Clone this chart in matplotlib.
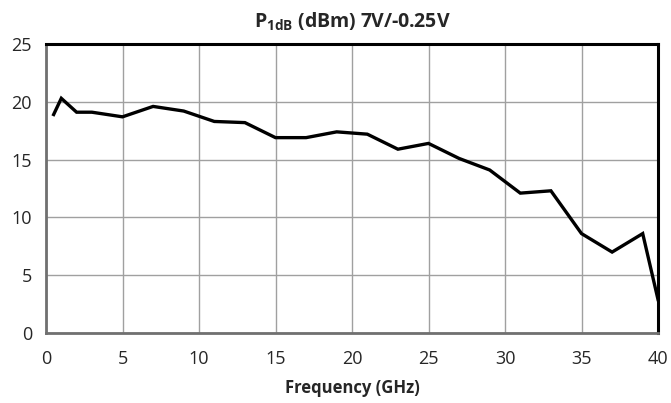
import matplotlib.pyplot as plt

plt.rcParams['font.family'] = ['Open Sans', 'DejaVu Sans']
plt.rcParams['mathtext.fontset'] = 'custom'
plt.rcParams['mathtext.rm'] = 'Open Sans'
plt.rcParams['mathtext.bf'] = 'Open Sans:bold'

# P1dB vs frequency
freq_ghz = [0.5, 1, 2, 3, 5, 7, 9, 11, 13, 15, 17, 19, 21, 23, 25, 27, 29, 31, 33, 35, 37, 39, 40]
p1db_dbm = [18.9, 20.3, 19.1, 19.1, 18.7, 19.6, 19.2, 18.3, 18.2, 16.9, 16.9, 17.4, 17.2, 15.9,
            16.4, 15.1, 14.1, 12.1, 12.3, 8.6, 7.0, 8.6, 2.9]
x_ticks = [0, 5, 10, 15, 20, 25, 30, 35, 40]
y_ticks = [0, 5, 10, 15, 20, 25]

fig = plt.figure(figsize=(6.71, 4.03), dpi=100)
ax = fig.add_axes([46 / 671, 1 - 333 / 403, (658 - 46) / 671, (333 - 44) / 403])

ax.plot(freq_ghz, p1db_dbm, color='black', lw=2.4, solid_joinstyle='miter', clip_on=False, zorder=3)

ax.set_xlim(0, 40)
ax.set_ylim(0, 25)
ax.set_xticks(x_ticks)
ax.set_yticks(y_ticks)
ax.grid(True, color='#a0a0a0', lw=1)
ax.set_axisbelow(True)
ax.tick_params(length=0, labelsize=13, colors='#262626', pad=10)
ax.tick_params(axis='x', pad=12)

for side in ['top', 'right']:
    ax.spines[side].set_color('black')
    ax.spines[side].set_linewidth(2.2)
for side in ['left', 'bottom']:
    ax.spines[side].set_color('#707070')
    ax.spines[side].set_linewidth(2)

ax.set_title(r'$\mathbf{P_{1dB}}$ (dBm) 7V/-0.25V', fontsize=14, fontweight='bold',
             color='#262626', pad=12)
ax.set_xlabel('Frequency (GHz)', fontsize=12, fontweight='bold', color='#262626', labelpad=8)

fig.savefig('out.png', dpi=100)
